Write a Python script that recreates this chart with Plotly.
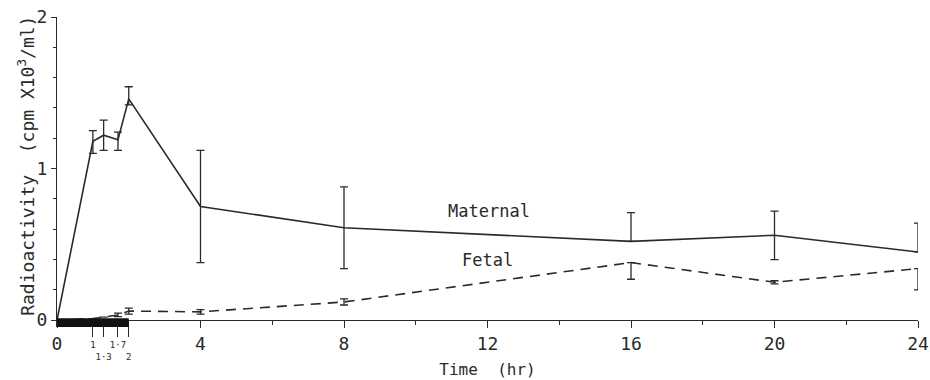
import plotly.graph_objects as go

# ---- data ----
time_hr = [0, 1, 1.3, 1.7, 2, 4, 8, 16, 20, 24]
maternal = [0, 1.18, 1.22, 1.19, 1.46, 0.75, 0.61, 0.52, 0.56, 0.45]
maternal_err_plus = [0, 0.07, 0.10, 0.05, 0.08, 0.37, 0.27, 0.19, 0.16, 0.19]
maternal_err_minus = [0, 0.08, 0.10, 0.07, 0.04, 0.37, 0.27, 0.0, 0.16, 0.0]
fetal = [0, 0.01, 0.02, 0.035, 0.06, 0.055, 0.12, 0.38, 0.25, 0.34]
fetal_err_plus = [0, 0, 0, 0.012, 0.02, 0.015, 0.02, 0.0, 0.01, 0.0]
fetal_err_minus = [0, 0, 0, 0.012, 0.02, 0.015, 0.02, 0.11, 0.01, 0.14]

sample_ticks = [1, 1.3, 1.7, 2]
sample_labels = ["1", "<br>1·3", "1·7", "<br>2"]
x_tickvals = [0, 4, 8, 12, 16, 20, 24]
y_tickvals = [0, 1, 2]
infusion_start, infusion_end = 0, 2

FONT = "DejaVu Sans Mono"
INK = "#2a2a2a"
y_range = [-0.045, 2.0]
axis_pos = -y_range[0] / (y_range[1] - y_range[0])

fig = go.Figure()

fig.add_trace(go.Scatter(
    x=time_hr, y=maternal, mode="lines",
    line=dict(color=INK, width=1.6),
    error_y=dict(type="data", symmetric=False, array=maternal_err_plus,
                 arrayminus=maternal_err_minus, color=INK, thickness=1.3, width=4),
    showlegend=False, hoverinfo="skip"))

fig.add_trace(go.Scatter(
    x=time_hr, y=fetal, mode="lines",
    line=dict(color=INK, width=1.6, dash="10px,7px"),
    error_y=dict(type="data", symmetric=False, array=fetal_err_plus,
                 arrayminus=fetal_err_minus, color=INK, thickness=1.3, width=4),
    showlegend=False, hoverinfo="skip"))

# invisible trace to carry the sample-time axis
fig.add_trace(go.Scatter(x=sample_ticks, y=[0] * len(sample_ticks), xaxis="x2",
                         mode="markers", marker=dict(opacity=0),
                         showlegend=False, hoverinfo="skip"))

# infusion bar
fig.add_shape(type="rect", xref="x", yref="y",
              x0=infusion_start, x1=infusion_end, y0=y_range[0], y1=0.012,
              fillcolor="#111", line=dict(width=0), layer="above")

fig.add_annotation(x=12.05, y=0.72, text="Maternal", showarrow=False,
                   font=dict(family=FONT, size=17, color=INK))
fig.add_annotation(x=12.0, y=0.40, text="Fetal", showarrow=False,
                   font=dict(family=FONT, size=17, color=INK))
# y-axis title
fig.add_annotation(xref="paper", yref="paper", x=-0.036, y=0.52, xanchor="center",
                   yanchor="middle", textangle=-90, showarrow=False,
                   text="Radioactivity  (cpm X10<sup>3</sup>/ml)",
                   font=dict(family=FONT, size=18, color=INK))

fig.update_layout(
    width=930, height=380,
    margin=dict(l=57, r=12, t=17, b=53),
    paper_bgcolor="white", plot_bgcolor="white",
    font=dict(family=FONT, color=INK),
    xaxis=dict(range=[0, 24], tickvals=x_tickvals, showgrid=False, zeroline=False,
               showline=True, linecolor=INK, linewidth=1.3, automargin=False,
               anchor="free", position=axis_pos, ticklabeloverflow="allow",
               ticks="outside", ticklen=7, tickwidth=1.3, tickcolor=INK,
               minor=dict(dtick=2, ticks="outside", ticklen=4, tickcolor=INK),
               tickfont=dict(size=18, family=FONT, color=INK),
               title=dict(text="Time  (hr)", font=dict(size=16, family=FONT), standoff=10)),
    xaxis2=dict(range=[0, 24], overlaying="x", anchor="free", position=axis_pos,
                tickvals=sample_ticks, ticktext=sample_labels, showgrid=False,
                zeroline=False, showline=False, ticks="outside", ticklen=16,
                tickwidth=1.2, tickcolor=INK, side="bottom", tickangle=0,
                automargin=False, ticklabeloverflow="allow",
                tickfont=dict(size=9, family=FONT, color=INK)),
    yaxis=dict(range=y_range, tickvals=y_tickvals, showgrid=False, zeroline=False,
               showline=True, linecolor=INK, linewidth=1.3, automargin=False,
               ticklabeloverflow="allow",
               ticks="outside", ticklen=5, tickwidth=1.3, tickcolor=INK,
               minor=dict(dtick=0.2, ticks="outside", ticklen=3, tickcolor=INK),
               tickfont=dict(size=18, family=FONT, color=INK)),
)

fig.write_html("out.html", config={"displayModeBar": False},
               post_script="document.body.style.margin='0';document.body.style.overflow='hidden';")
